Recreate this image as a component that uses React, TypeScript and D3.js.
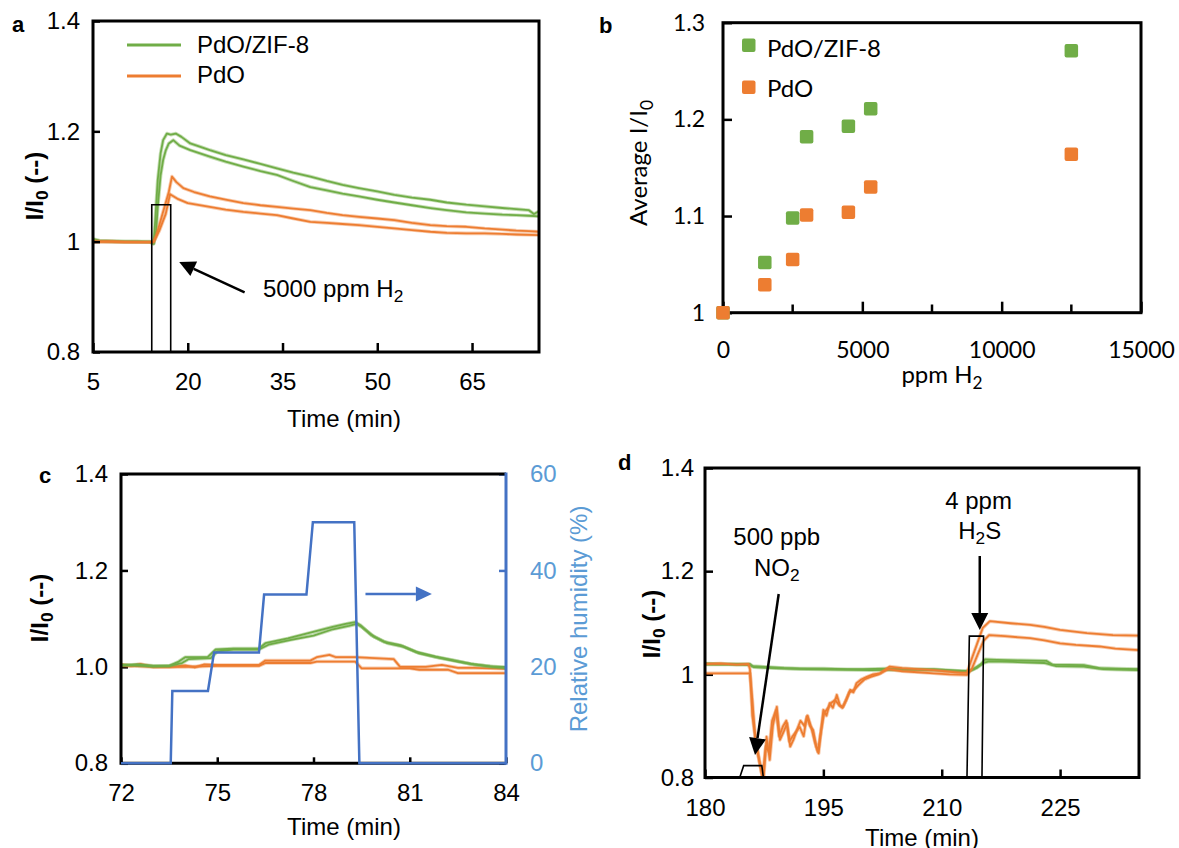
import React, { useEffect, useRef } from 'react';
import * as d3 from 'd3';

type Pt = [number, number];

const GREEN = '#70AD47';
const ORANGE = '#ED7D31';
const BLUE = '#4472C4';
const LIGHT_BLUE = '#5B9BD5';
const ARIAL = '"Liberation Sans", Arial, sans-serif';
const CALIBRI = 'Lato, "Noto Sans", sans-serif';

// ---- panel a : response to 5000 ppm H2 ----
const aTicksX = [5, 20, 35, 50, 65];
const aTicksY = [0.8, 1, 1.2, 1.4];
const aZifHigh: Pt[] = [
  [5, 1.005], [6, 1.002], [8, 1.001], [10, 1.0], [12, 1.0], [14, 1.0], [14.6, 0.997], [14.8, 1.03],
  [15.25, 1.112], [15.7, 1.16], [16.1, 1.184], [16.7, 1.196], [17.3, 1.194], [18.1, 1.196], [19, 1.19],
  [20.4, 1.178], [22, 1.172], [23.5, 1.166], [26, 1.157], [28.8, 1.149], [31.5, 1.141], [34.1, 1.133],
  [36.7, 1.125], [39.4, 1.118], [42, 1.11], [44.5, 1.103], [47.1, 1.097], [50, 1.091], [52.7, 1.085],
  [55.5, 1.08], [58.4, 1.076], [61, 1.071], [64.1, 1.067], [67, 1.064], [69.8, 1.061], [72, 1.059],
  [74, 1.057], [74.8, 1.05], [75.6, 1.055],
];
const aZifLow: Pt[] = [
  [5, 1.003], [6, 1.001], [8, 1.0], [10, 1.0], [12, 1.0], [14, 0.999], [14.6, 0.996], [15.0, 1.02],
  [15.25, 1.063], [15.7, 1.12], [16.1, 1.148], [16.5, 1.165], [17.0, 1.178], [17.7, 1.184], [18.7, 1.174],
  [20.4, 1.166], [23.5, 1.154], [26, 1.145], [28.8, 1.136], [31.5, 1.128], [34.1, 1.121], [36.7, 1.11],
  [39.4, 1.099], [42, 1.093], [44.5, 1.087], [47.1, 1.082], [50, 1.076], [52.7, 1.071], [55.5, 1.066],
  [58.4, 1.061], [61, 1.057], [64.1, 1.053], [67, 1.051], [69.8, 1.049], [72, 1.048], [74, 1.047], [75.6, 1.046],
];
const aPdoHigh: Pt[] = [
  [5, 1.0], [6, 1.0], [8, 1.0], [10, 0.999], [12, 0.999], [14, 0.999], [14.6, 1.0], [15.0, 1.01],
  [15.5, 1.03], [16.0, 1.05], [16.5, 1.07], [17.0, 1.09], [17.5, 1.118], [18.2, 1.108], [19.3, 1.097],
  [21, 1.09], [23.5, 1.082], [26, 1.076], [28.8, 1.07], [31.5, 1.066], [34.1, 1.063], [36.7, 1.06],
  [39.4, 1.057], [42, 1.052], [44.5, 1.048], [47.1, 1.045], [50, 1.042], [52.7, 1.039], [55.5, 1.034],
  [58.4, 1.03], [61, 1.028], [64.1, 1.027], [67, 1.024], [69.8, 1.022], [72, 1.02], [74, 1.019], [75.6, 1.018],
];
const aPdoLow: Pt[] = [
  [5, 1.0], [8, 1.0], [12, 0.999], [14, 0.999], [14.6, 1.0], [15.5, 1.02], [16.0, 1.035], [16.5, 1.05],
  [17.2, 1.086], [18.5, 1.077], [20, 1.07], [23.5, 1.063], [26, 1.058], [28.8, 1.054], [31.5, 1.051],
  [34.1, 1.048], [36.7, 1.042], [39.4, 1.036], [42, 1.034], [44.5, 1.032], [47.1, 1.03], [50, 1.027],
  [52.7, 1.024], [55.5, 1.021], [58.4, 1.018], [61, 1.016], [64.1, 1.015], [67, 1.015], [69.8, 1.014],
  [72, 1.013], [75.6, 1.012],
];
const aPulse: Pt[] = [[14.3, 0.8], [14.3, 1.067], [17.3, 1.067], [17.3, 0.8]];

// ---- panel b : average response vs H2 concentration ----
const bPpm = [0, 1500, 2500, 3000, 4500, 5300, 12500];
const bZif = [1.0, 1.052, 1.098, 1.182, 1.193, 1.211, 1.271];
const bPdo = [1.0, 1.029, 1.055, 1.101, 1.104, 1.13, 1.164];
const bTicksX = [0, 5000, 10000, 15000];
const bMinorX = [2500, 7500, 12500];
const bTicksY = [1, 1.1, 1.2, 1.3];

// ---- panel c : humidity steps ----
const cTicksX = [72, 75, 78, 81, 84];
const cTicksY = [0.8, 1.0, 1.2, 1.4];
const cTicksRh = [0, 20, 40, 60];
const cRh: Pt[] = [
  [72, 0], [73.55, 0], [73.6, 15], [74.71, 15], [74.9, 23], [76.3, 23], [76.46, 35], [77.78, 35],
  [77.98, 50], [79.27, 50], [79.43, 0], [84, 0],
];
const cZifA: Pt[] = [
  [72, 1.003], [72.5, 1.005], [73, 1.002], [73.5, 1.002], [73.8, 1.011], [74.0, 1.02], [74.7, 1.02],
  [74.95, 1.036], [75.5, 1.038], [76.3, 1.038], [76.5, 1.049], [77.2, 1.059], [77.9, 1.071], [78.6, 1.083],
  [79.0, 1.089], [79.3, 1.093], [79.45, 1.087], [79.8, 1.066], [80.2, 1.052], [80.7, 1.045], [81.2, 1.031],
  [81.8, 1.021], [82.4, 1.013], [82.9, 1.006], [83.5, 1.001], [84, 0.999],
];
const cZifB: Pt[] = [
  [72, 1.004], [72.5, 1.003], [73, 1.001], [73.5, 1.002], [73.9, 1.008], [74.1, 1.016], [74.8, 1.018],
  [75.0, 1.032], [75.5, 1.036], [76.3, 1.036], [76.6, 1.046], [77.3, 1.056], [78.0, 1.065], [78.6, 1.078],
  [79.1, 1.085], [79.35, 1.089], [79.5, 1.083], [79.9, 1.062], [80.3, 1.049], [80.8, 1.042], [81.3, 1.028],
  [81.9, 1.019], [82.5, 1.011], [83.0, 1.005], [83.6, 1.0], [84, 0.998],
];
const cPdoA: Pt[] = [
  [72, 1.005], [72.3, 1.002], [72.6, 1.006], [73, 1.0], [73.5, 1.0], [74, 1.003], [74.3, 0.999],
  [74.6, 1.005], [75, 1.004], [76.3, 1.004], [76.5, 1.013], [77.9, 1.013], [78.1, 1.02], [78.5, 1.025],
  [78.7, 1.02], [79.3, 1.02], [80.5, 1.016], [80.7, 1.0], [81.5, 1.0], [82, 1.004], [82.5, 0.998],
  [83, 0.998], [83.5, 0.997], [84, 0.996],
];
const cPdoB: Pt[] = [
  [72, 1.003], [73, 1.0], [74, 1.0], [75, 1.002], [76.3, 1.002], [76.5, 1.008], [77.9, 1.008],
  [78.1, 1.011], [79.3, 1.011], [79.5, 0.997], [81, 0.997], [81.3, 0.994], [82.2, 0.994], [82.5, 0.987],
  [84, 0.987],
];

// ---- panel d : NO2 and H2S interference ----
const dTicksX = [180, 195, 210, 225];
const dTicksY = [0.8, 1, 1.2, 1.4];
const dZifA: Pt[] = [
  [180, 1.021], [182, 1.02], [184, 1.02], [185.7, 1.02], [186, 1.016], [188, 1.014], [190, 1.012],
  [192, 1.011], [195, 1.011], [198, 1.01], [200, 1.01], [203, 1.011], [206, 1.01], [209, 1.01],
  [212, 1.007], [213.2, 1.006], [214, 1.01], [215, 1.02], [215.5, 1.029], [217, 1.028], [220, 1.027],
  [223.3, 1.026], [224, 1.019], [228, 1.018], [230, 1.012], [232, 1.011], [235, 1.01],
];
const dZifB: Pt[] = [
  [180, 1.019], [183, 1.019], [185.7, 1.018], [186.2, 1.014], [189, 1.012], [193, 1.01], [197, 1.009],
  [201, 1.008], [205, 1.009], [209, 1.008], [212.5, 1.006], [213.5, 1.006], [214.5, 1.013], [215.3, 1.022],
  [216, 1.025], [219, 1.024], [223, 1.022], [224.5, 1.016], [228, 1.015], [230.5, 1.01], [235, 1.008],
];
const dPdoA: Pt[] = [
  [180, 1.02], [182, 1.021], [184, 1.019], [185.5, 1.02], [185.7, 1.01], [186.0, 0.92], [186.3, 0.886],
  [186.8, 0.84], [187.4, 0.79], [187.8, 0.879], [188.2, 0.834], [188.6, 0.9], [189.1, 0.937], [189.5, 0.873],
  [190.0, 0.89], [190.4, 0.905], [190.8, 0.86], [191.2, 0.873], [191.6, 0.89], [192.0, 0.898], [192.5, 0.88],
  [192.9, 0.918], [193.3, 0.9], [193.7, 0.892], [194.1, 0.86], [194.4, 0.847], [194.7, 0.89], [195.0, 0.931],
  [195.4, 0.92], [195.8, 0.944], [196.2, 0.935], [196.7, 0.96], [197.1, 0.94], [197.5, 0.937], [198.0, 0.955],
  [198.4, 0.97], [198.8, 0.965], [199.2, 0.983], [199.8, 0.99], [200.5, 0.995], [201.3, 1.0], [202.2, 1.002],
  [203.4, 1.015], [205, 1.012], [207, 1.01], [209, 1.008], [211, 1.005], [212.5, 1.003], [213.2, 1.003],
  [213.8, 1.03], [214.5, 1.06], [215.2, 1.09], [216.1, 1.103], [218.7, 1.099], [221.2, 1.096], [223, 1.092],
  [225, 1.086], [228.4, 1.08], [231.7, 1.076], [235, 1.075],
];
const dPdoB: Pt[] = [
  [180, 1.002], [185.7, 1.002], [186.0, 0.95], [186.4, 0.87], [186.9, 0.83], [187.3, 0.8], [187.7, 0.86],
  [188.1, 0.85], [188.5, 0.91], [189.0, 0.93], [189.4, 0.88], [189.9, 0.9], [190.3, 0.91], [190.7, 0.87],
  [191.1, 0.88], [191.6, 0.89], [192.1, 0.91], [192.6, 0.9], [193.0, 0.92], [193.5, 0.895], [193.9, 0.87],
  [194.3, 0.85], [194.6, 0.88], [195.1, 0.925], [195.6, 0.935], [196.0, 0.945], [196.5, 0.95], [197.0, 0.94],
  [197.4, 0.935], [197.9, 0.95], [198.3, 0.965], [198.9, 0.97], [199.5, 0.98], [200.2, 0.99], [201, 0.995],
  [202, 1.0], [203.2, 1.01], [205, 1.006], [207, 1.004], [209, 1.002], [211, 1.0], [213.2, 0.999],
  [213.8, 1.01], [214.6, 1.04], [215.3, 1.065], [216, 1.076], [218, 1.074], [221.2, 1.07], [223, 1.066],
  [225, 1.06], [227, 1.057], [230, 1.054], [232, 1.05], [235, 1.047],
];
const dNo2Pulse: Pt[] = [[184.4, 0.8], [184.9, 0.823], [187.2, 0.823], [187.4, 0.8]];
const dH2sPulse: Pt[] = [[213.2, 0.8], [213.5, 1.074], [215.3, 1.074], [215.1, 0.8]];

type Sel = d3.Selection<any, unknown, null, undefined>;

function curve(g: Sel, data: Pt[], x: any, y: any, color: string, w = 1.8) {
  const line = d3.line<Pt>().x((d) => x(d[0])).y((d) => y(d[1]));
  g.append('path').datum(data).attr('d', line).attr('fill', 'none')
    .attr('stroke', color).attr('stroke-opacity', 0.4).attr('stroke-width', w + 1.8).attr('stroke-linejoin', 'round');
  g.append('path').datum(data).attr('d', line).attr('fill', 'none')
    .attr('stroke', color).attr('stroke-width', w).attr('stroke-linejoin', 'round');
}

function outline(g: Sel, data: Pt[], x: any, y: any) {
  const line = d3.line<Pt>().x((d) => x(d[0])).y((d) => y(d[1]));
  g.append('path').datum(data).attr('d', line).attr('fill', 'none').attr('stroke', '#000').attr('stroke-width', 1.6);
}

function arrow(g: Sel, x1: number, y1: number, x2: number, y2: number, color: string, len = 16, half = 8, w = 2.5) {
  const a = Math.atan2(y2 - y1, x2 - x1);
  const bx = x2 - len * Math.cos(a);
  const by = y2 - len * Math.sin(a);
  g.append('line').attr('x1', x1).attr('y1', y1).attr('x2', bx).attr('y2', by)
    .attr('stroke', color).attr('stroke-width', w);
  const px = -Math.sin(a) * half;
  const py = Math.cos(a) * half;
  g.append('path').attr('d', `M${x2},${y2}L${bx + px},${by + py}L${bx - px},${by - py}Z`).attr('fill', color);
}

// text with a subscript part; pieces: [text, isSub]
function rich(t: Sel, pieces: [string, boolean][], shift: number) {
  let cur = 0;
  pieces.forEach(([s, sub]) => {
    const target = sub ? shift : 0;
    t.append('tspan').attr('dy', target - cur).attr('font-size', sub ? '0.72em' : null).text(s);
    cur = target;
  });
}

function styleAxis(g: Sel, font: string, size: number, color = '#000', tickW = 2.5) {
  g.select('.domain').remove();
  g.selectAll('.tick line').attr('stroke', color).attr('stroke-width', tickW);
  g.selectAll('.tick text').attr('fill', color).attr('font-family', font).attr('font-size', size);
}

function clip(svg: Sel, id: string, x0: number, y0: number, x1: number, y1: number) {
  svg.append('defs').append('clipPath').attr('id', id).append('rect')
    .attr('x', x0).attr('y', y0).attr('width', x1 - x0).attr('height', y1 - y0);
}

const fmtY = (d: any) => (d === 1 ? '1' : d3.format('.1f')(d));

function panelA(svg: Sel) {
  const x = d3.scaleLinear().domain([5, 75.6]).range([93, 539]);
  const y = d3.scaleLinear().domain([0.8, 1.4]).range([352, 21]);
  clip(svg, 'clipA', 93, 21, 539, 352);
  const g = svg.append('g');
  const plot = g.append('g').attr('clip-path', 'url(#clipA)');
  curve(plot, aZifLow, x, y, GREEN);
  curve(plot, aZifHigh, x, y, GREEN);
  curve(plot, aPdoLow, x, y, ORANGE);
  curve(plot, aPdoHigh, x, y, ORANGE);
  outline(plot, aPulse, x, y);

  const xa = g.append('g').attr('transform', 'translate(0,352)')
    .call(d3.axisBottom(x).tickValues(aTicksX).tickFormat(d3.format('d')).tickSizeInner(-9).tickSizeOuter(0).tickPadding(21));
  styleAxis(xa, ARIAL, 24);
  const ya = g.append('g').attr('transform', 'translate(93,0)')
    .call(d3.axisLeft(y).tickValues(aTicksY).tickFormat(fmtY).tickSizeInner(-7).tickSizeOuter(0).tickPadding(13));
  styleAxis(ya, ARIAL, 24);
  g.append('rect').attr('x', 93).attr('y', 21).attr('width', 446).attr('height', 331)
    .attr('fill', 'none').attr('stroke', '#000').attr('stroke-width', 3);

  // legend
  g.append('line').attr('x1', 127).attr('x2', 181).attr('y1', 45).attr('y2', 45).attr('stroke', GREEN).attr('stroke-width', 3);
  g.append('line').attr('x1', 127).attr('x2', 181).attr('y1', 76).attr('y2', 76).attr('stroke', ORANGE).attr('stroke-width', 3);
  g.append('text').attr('x', 197).attr('y', 53).attr('font-family', ARIAL).attr('font-size', 24).text('PdO/ZIF-8');
  g.append('text').attr('x', 197).attr('y', 83).attr('font-family', ARIAL).attr('font-size', 24).text('PdO');

  arrow(g, x(29.0), y(0.908), x(18.65), y(0.963), '#000');
  const t = g.append('text').attr('x', x(31.9)).attr('y', y(0.9)).attr('font-family', ARIAL).attr('font-size', 24);
  rich(t, [['5000 ppm H', false], ['2', true]], 5);

  g.append('text').attr('x', 344).attr('y', 427).attr('text-anchor', 'middle').attr('font-family', ARIAL).attr('font-size', 24).text('Time (min)');
  const yt = g.append('text').attr('transform', 'translate(43,186) rotate(-90)').attr('text-anchor', 'middle')
    .attr('font-family', ARIAL).attr('font-size', 24).attr('font-weight', 'bold');
  rich(yt, [['I/I', false], ['0', true], [' (--)', false]], 5);
  g.append('text').attr('x', 12).attr('y', 32).attr('font-family', ARIAL).attr('font-size', 22).attr('font-weight', 'bold').text('a');
}

function panelB(svg: Sel) {
  const x = d3.scaleLinear().domain([0, 15000]).range([723, 1141]);
  const y = d3.scaleLinear().domain([1, 1.3]).range([312.7, 22.7]);
  const g = svg.append('g');

  const xa = g.append('g').attr('transform', 'translate(0,312.7)')
    .call(d3.axisBottom(x).tickValues(bTicksX).tickFormat(d3.format('d')).tickSizeInner(-11).tickSizeOuter(0).tickPadding(29));
  styleAxis(xa, CALIBRI, 23);
  g.selectAll('.minor').data(bMinorX).enter().append('line').attr('class', 'minor')
    .attr('x1', (d) => x(d)).attr('x2', (d) => x(d)).attr('y1', 312.7).attr('y2', 304.5)
    .attr('stroke', '#000').attr('stroke-width', 2.5);
  const ya = g.append('g').attr('transform', 'translate(723,0)')
    .call(d3.axisLeft(y).tickValues(bTicksY).tickFormat(fmtY).tickSizeInner(-9).tickSizeOuter(0).tickPadding(18));
  styleAxis(ya, CALIBRI, 23);
  g.append('rect').attr('x', 723).attr('y', 22.7).attr('width', 418).attr('height', 290)
    .attr('fill', 'none').attr('stroke', '#000').attr('stroke-width', 3);

  const s = 13.5;
  const pts = (vals: number[]) => bPpm.map((p, i) => [p, vals[i]] as Pt);
  [[bZif, GREEN], [bPdo, ORANGE]].forEach(([vals, color]) => {
    g.append('g').selectAll('rect').data(pts(vals as number[])).enter().append('rect')
      .attr('x', (d) => x(d[0]) - s / 2).attr('y', (d) => y(d[1]) - s / 2)
      .attr('width', s).attr('height', s).attr('rx', 2).attr('fill', color as string);
  });

  g.append('rect').attr('x', 742).attr('y', 38.5).attr('width', s).attr('height', s).attr('rx', 2).attr('fill', GREEN);
  g.append('rect').attr('x', 742).attr('y', 80.5).attr('width', s).attr('height', s).attr('rx', 2).attr('fill', ORANGE);
  g.append('text').attr('x', 767).attr('y', 57).attr('font-family', CALIBRI).attr('font-size', 24).text('PdO/ZIF-8');
  g.append('text').attr('x', 767).attr('y', 96.5).attr('font-family', CALIBRI).attr('font-size', 24).text('PdO');

  const xt = g.append('text').attr('x', 942).attr('y', 383).attr('text-anchor', 'middle').attr('font-family', CALIBRI).attr('font-size', 24);
  rich(xt, [['ppm H', false], ['2', true]], 6);
  const yt = g.append('text').attr('transform', 'translate(647,163) rotate(-90)').attr('text-anchor', 'middle')
    .attr('font-family', CALIBRI).attr('font-size', 24);
  rich(yt, [['Average I/I', false], ['0', true]], 6);
  g.append('text').attr('x', 599).attr('y', 33).attr('font-family', ARIAL).attr('font-size', 22).attr('font-weight', 'bold').text('b');
}

function panelC(svg: Sel) {
  const x = d3.scaleLinear().domain([72, 84]).range([121, 506]);
  const y = d3.scaleLinear().domain([0.8, 1.4]).range([763.3, 474]);
  const y2 = d3.scaleLinear().domain([0, 60]).range([763.3, 474]);
  clip(svg, 'clipC', 121, 474, 506, 763.3);
  const g = svg.append('g');

  const xa = g.append('g').attr('transform', 'translate(0,763.3)')
    .call(d3.axisBottom(x).tickValues(cTicksX).tickFormat(d3.format('d')).tickSizeInner(-6).tickSizeOuter(0).tickPadding(21));
  styleAxis(xa, ARIAL, 24);
  const ya = g.append('g').attr('transform', 'translate(121,0)')
    .call(d3.axisLeft(y).tickValues(cTicksY).tickFormat(d3.format('.1f')).tickSizeInner(-7).tickSizeOuter(0).tickPadding(13));
  styleAxis(ya, ARIAL, 24);
  const yr = g.append('g').attr('transform', 'translate(506,0)')
    .call(d3.axisRight(y2).tickValues(cTicksRh).tickFormat(d3.format('d')).tickSizeInner(-7).tickSizeOuter(0).tickPadding(24));
  styleAxis(yr, ARIAL, 24, BLUE);
  yr.selectAll('.tick text').attr('fill', LIGHT_BLUE);

  const plot = g.append('g').attr('clip-path', 'url(#clipC)');
  curve(plot, cPdoB, x, y, ORANGE);
  curve(plot, cPdoA, x, y, ORANGE);
  curve(plot, cZifB, x, y, GREEN);
  curve(plot, cZifA, x, y, GREEN);

  g.append('path').attr('d', 'M506,474H121V763.3H506').attr('fill', 'none').attr('stroke', '#000').attr('stroke-width', 3);
  g.append('line').attr('x1', 506).attr('x2', 506).attr('y1', 472.5).attr('y2', 764.8).attr('stroke', BLUE).attr('stroke-width', 3);

  const rhLine = d3.line<Pt>().x((d) => x(d[0])).y((d) => y2(d[1]));
  g.append('path').datum(cRh).attr('d', rhLine).attr('fill', 'none').attr('stroke', BLUE).attr('stroke-width', 2.5);
  arrow(g, x(79.62), y(1.151), x(81.69), y(1.151), BLUE, 16, 7.5, 2.5);

  g.append('text').attr('x', 344).attr('y', 835).attr('text-anchor', 'middle').attr('font-family', ARIAL).attr('font-size', 24).text('Time (min)');
  const yt = g.append('text').attr('transform', 'translate(48,608) rotate(-90)').attr('text-anchor', 'middle')
    .attr('font-family', ARIAL).attr('font-size', 24).attr('font-weight', 'bold');
  rich(yt, [['I/I', false], ['0', true], [' (--)', false]], 5);
  g.append('text').attr('transform', 'translate(587,619) rotate(-90)').attr('text-anchor', 'middle')
    .attr('font-family', ARIAL).attr('font-size', 24).attr('fill', LIGHT_BLUE).text('Relative humidity (%)');
  g.append('text').attr('x', 39).attr('y', 483).attr('font-family', ARIAL).attr('font-size', 22).attr('font-weight', 'bold').text('c');
}

function panelD(svg: Sel) {
  const x = d3.scaleLinear().domain([180, 235]).range([705, 1139]);
  const y = d3.scaleLinear().domain([0.8, 1.4]).range([777.5, 468]);
  clip(svg, 'clipD', 705, 468, 1139, 777.5);
  const g = svg.append('g');

  const xa = g.append('g').attr('transform', 'translate(0,777.5)')
    .call(d3.axisBottom(x).tickValues(dTicksX).tickFormat(d3.format('d')).tickSizeInner(-8).tickSizeOuter(0).tickPadding(21.5));
  styleAxis(xa, ARIAL, 24);
  const ya = g.append('g').attr('transform', 'translate(705,0)')
    .call(d3.axisLeft(y).tickValues(dTicksY).tickFormat(fmtY).tickSizeInner(-8).tickSizeOuter(0).tickPadding(11));
  styleAxis(ya, ARIAL, 24);

  const plot = g.append('g').attr('clip-path', 'url(#clipD)');
  curve(plot, dZifB, x, y, GREEN);
  curve(plot, dZifA, x, y, GREEN);
  curve(plot, dPdoB, x, y, ORANGE);
  curve(plot, dPdoA, x, y, ORANGE);
  outline(plot, dNo2Pulse, x, y);
  outline(plot, dH2sPulse, x, y);

  g.append('rect').attr('x', 705).attr('y', 468).attr('width', 434).attr('height', 309.5)
    .attr('fill', 'none').attr('stroke', '#000').attr('stroke-width', 3);

  arrow(g, x(189.34), y(1.1557), x(186.34), y(0.8436), '#000', 17, 8.5);
  arrow(g, x(214.82), y(1.2294), x(214.82), y(1.086), '#000', 17, 8.5);
  const lab = (tx: number, ty: number) => g.append('text').attr('x', x(tx)).attr('y', y(ty))
    .attr('text-anchor', 'middle').attr('font-family', ARIAL).attr('font-size', 24);
  lab(189.09, 1.2508).text('500 ppb');
  rich(lab(189.09, 1.1912), [['NO', false], ['2', true]], 5);
  lab(214.67, 1.32).text('4 ppm');
  rich(lab(214.82, 1.2624), [['H', false], ['2', true], ['S', false]], 5);

  g.append('text').attr('x', 922).attr('y', 846).attr('text-anchor', 'middle').attr('font-family', ARIAL).attr('font-size', 24).text('Time (min)');
  const yt = g.append('text').attr('transform', 'translate(660,624) rotate(-90)').attr('text-anchor', 'middle')
    .attr('font-family', ARIAL).attr('font-size', 24).attr('font-weight', 'bold');
  rich(yt, [['I/I', false], ['0', true], [' (--)', false]], 5);
  g.append('text').attr('x', 618).attr('y', 470).attr('font-family', ARIAL).attr('font-size', 22).attr('font-weight', 'bold').text('d');
}

const App = () => {
  const ref = useRef<SVGSVGElement>(null);

  useEffect(() => {
    const svg = d3.select(ref.current) as unknown as Sel;
    svg.selectAll('*').remove();
    panelA(svg);
    panelB(svg);
    panelC(svg);
    panelD(svg);
  }, []);

  return (
    <svg
      ref={ref}
      width={1179}
      height={848}
      style={{ position: 'absolute', left: 0, top: 0, background: '#fff' }}
    />
  );
};

export default App;
